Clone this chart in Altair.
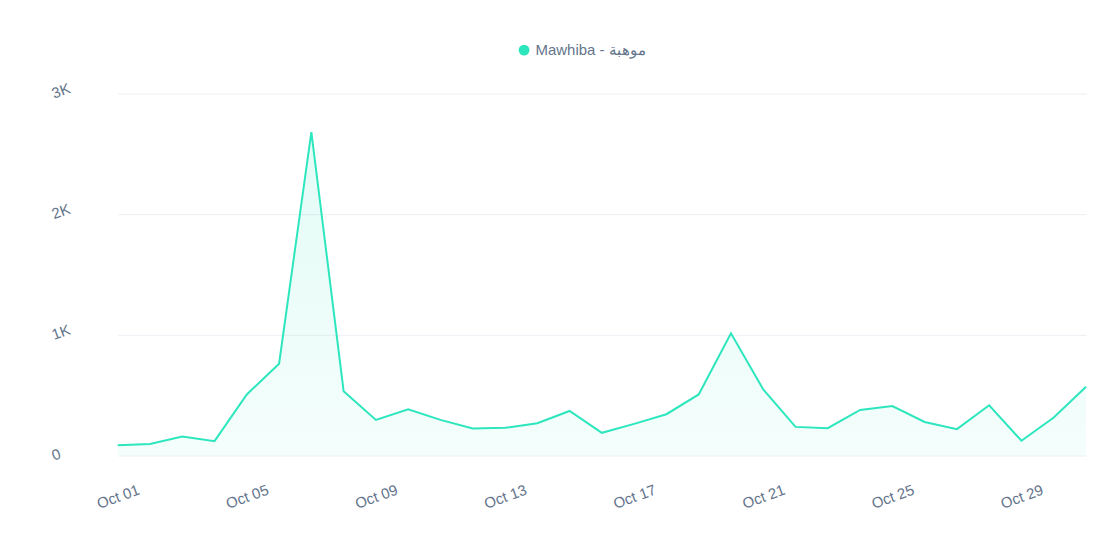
import altair as alt
import pandas as pd

days = [f"Oct {d:02d}" for d in range(1, 32)]
values = [84, 95, 158, 119, 506, 761, 2680, 533, 295, 383, 295, 224, 229, 267, 369,
          188, 262, 342, 506, 1012, 547, 237, 226, 377, 410, 278, 218, 416, 122, 314, 570]
series_name = "Mawhiba - موهبة"
tick_days = ["Oct 01", "Oct 05", "Oct 09", "Oct 13", "Oct 17", "Oct 21", "Oct 25", "Oct 29"]
y_ticks = [0, 1000, 2000, 3000]

df = pd.DataFrame({"day": days, "value": values, "series": series_name})

LINE = "#2de6be"
TEXT = "#64748b"
FONT = "Liberation Sans"

x_enc = alt.X(
    "day:O",
    sort=days,
    scale=alt.Scale(type="point", padding=0),
    axis=alt.Axis(
        values=tick_days, title=None, labelAngle=-20, labelAlign="center",
        labelBaseline="middle", labelPadding=41, tickSize=0, ticks=False,
        domain=False, grid=False, labelColor=TEXT, labelFontSize=15,
        labelFont=FONT,
    ),
)
y_enc = alt.Y(
    "value:Q",
    scale=alt.Scale(domain=[0, 3000], nice=False),
    axis=alt.Axis(
        values=y_ticks, title=None, labelExpr="datum.value == 0 ? '0' : (datum.value/1000) + 'K'",
        labelAngle=-20, labelAlign="left", labelBaseline="middle", labelPadding=66,
        ticks=False, tickSize=0, domain=False, gridColor="#eceff3", gridWidth=1,
        labelColor=TEXT, labelFontSize=15, labelFont=FONT,
    ),
)

area = alt.Chart(df).mark_area(
    line=False,
    color=alt.Gradient(
        gradient="linear",
        stops=[alt.GradientStop(color="rgba(45,230,190,0.13)", offset=0),
               alt.GradientStop(color="rgba(45,230,190,0.05)", offset=1)],
        x1=1, x2=1, y1=0, y2=1,
    ),
).encode(x=x_enc, y=y_enc)

line = alt.Chart(df).mark_line(strokeWidth=2).encode(
    x=x_enc,
    y=y_enc,
    color=alt.Color(
        "series:N",
        scale=alt.Scale(range=[LINE]),
        legend=alt.Legend(
            title=None, orient="none", legendX=400, legendY=-51,
            symbolType="circle", symbolSize=120, symbolFillColor=LINE,
            symbolStrokeWidth=0, labelColor=TEXT, labelFontSize=15,
            labelFont=FONT, symbolOpacity=1,
        ),
    ),
)

chart = (area + line).properties(
    width=971, height=363,
    padding={"left": 110, "top": 85, "right": 8, "bottom": 70},
    autosize=alt.AutoSizeParams(type="none"),
    background="white",
).configure_view(stroke=None)

chart.save("out.html", embed_options={"renderer": "svg", "actions": False})
